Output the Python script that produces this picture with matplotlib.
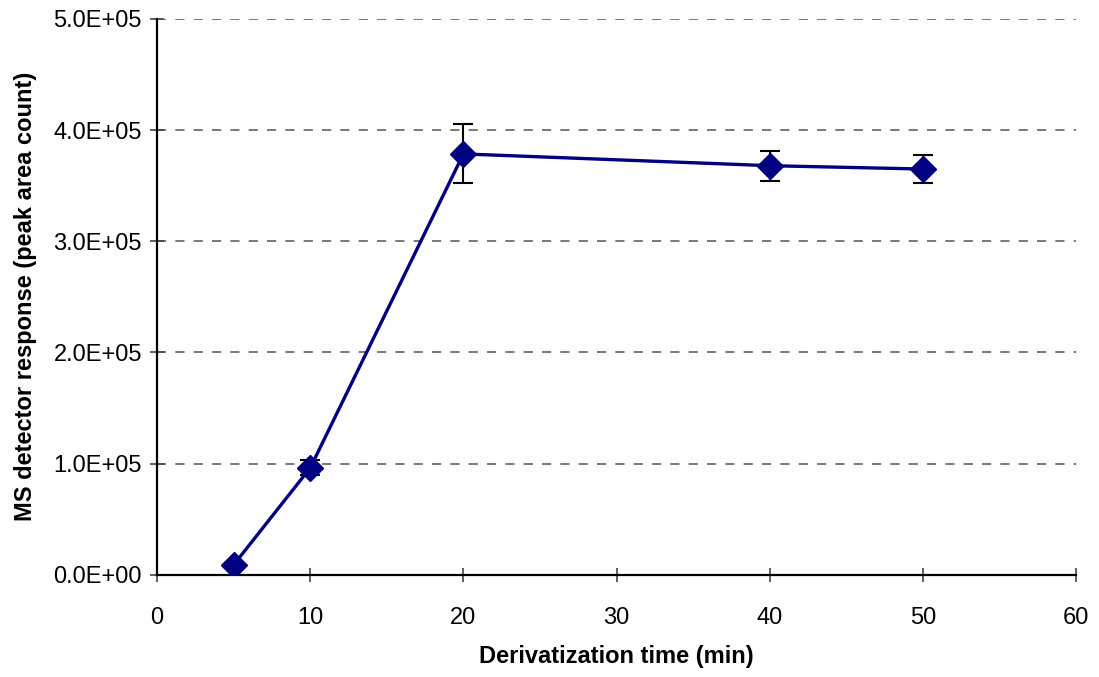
import matplotlib
matplotlib.use('Agg')
import matplotlib.pyplot as plt
from matplotlib.ticker import FuncFormatter

time_min = [5, 10, 20, 40, 50]
response = [9000, 96200, 378600, 368000, 365000]
error = [0, 6700, 26500, 13500, 13000]

plt.rcParams['font.family'] = ['Liberation Sans', 'DejaVu Sans']

fig = plt.figure(figsize=(10.99, 6.77), dpi=100)
ax = fig.add_axes([0.143, 0.151, 0.836, 0.821])

ax.errorbar(time_min, response, yerr=error, color='#000080', lw=2.4,
            marker='D', ms=13, mec='#000080', mfc='#000080',
            ecolor='black', elinewidth=1.5, capsize=7, capthick=1.5, zorder=3)

ax.set_xlim(0, 60)
ax.set_ylim(0, 5e5)
ax.set_xticks(range(0, 61, 10))
ax.set_yticks([i * 1e5 for i in range(6)])
ax.yaxis.set_major_formatter(FuncFormatter(lambda v, p: '%.1fE+05' % (v / 1e5) if v else '0.0E+00'))
ax.grid(axis='y', color='#555555', ls=(0, (6, 6)), lw=1.1)
ax.set_axisbelow(True)

for s in ['top', 'right']:
    ax.spines[s].set_visible(False)
ax.spines['left'].set_linewidth(1.6)
ax.spines['bottom'].set_linewidth(1.6)
ax.tick_params(axis='both', labelsize=17, direction='inout', length=10, width=1.2, color='#444444')
ax.tick_params(axis='y', pad=6)
ax.tick_params(axis='x', pad=18)

ax.set_xlabel('Derivatization time (min)', fontsize=17, fontweight='bold', labelpad=12)
ax.set_ylabel('MS detector response (peak area count)', fontsize=17, fontweight='bold', labelpad=12)

fig.savefig('out.png', dpi=100)
